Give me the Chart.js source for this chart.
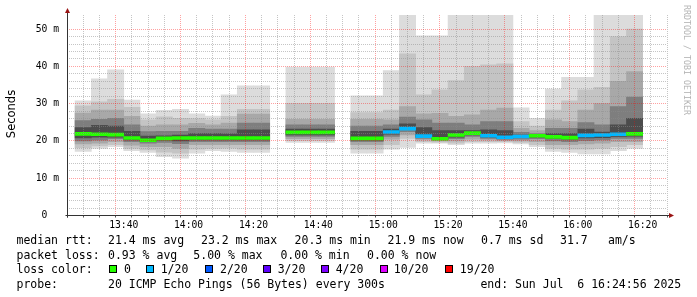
<!DOCTYPE html>
<html>
<head>
<meta charset="utf-8">
<script src="https://cdn.jsdelivr.net/npm/chart.js@4.4.1/dist/chart.umd.min.js"></script>
<style>
  body { margin: 0; background: #fff; }
  #wrap { position: relative; width: 697px; height: 297px; overflow: hidden; background: #fff; }
  #chart { position: absolute; left: 0; top: 0; }
  .txt { position: absolute; font-family: "DejaVu Sans Mono", monospace; font-size: 11.5px; line-height: 15px; white-space: pre; color: #000; }
  .box { position: absolute; width: 6px; height: 6px; border: 1px solid #000; }
  #unit { position: absolute; left: -19px; top: 107px; width: 60px; height: 14px; line-height: 14px; text-align: center;
          font-family: "DejaVu Sans", sans-serif; font-size: 11.5px; color: #000; transform: rotate(-90deg); }
  #mark { position: absolute; left: 632px; top: 55px; width: 110px; height: 10px; line-height: 10px; text-align: center;
          font-family: "DejaVu Sans Mono", monospace; font-size: 8.3px; color: #b4b4b4; transform: rotate(90deg); white-space: pre; }
</style>
</head>
<body>
<div id="wrap">
  <canvas id="chart" width="697" height="297"></canvas>
  <div id="unit">Seconds</div>
  <div id="mark">RRDTOOL / TOBI OETIKER</div>
</div>
<script>
// 5 minute steps, start of each step
var times = ['13:25','13:30','13:35','13:40','13:45','13:50','13:55','14:00','14:05','14:10','14:15','14:20',
             '14:25','14:30','14:35','14:40','14:45','14:50','14:55','15:00','15:05','15:10','15:15','15:20',
             '15:25','15:30','15:35','15:40','15:45','15:50','15:55','16:00','16:05','16:10','16:15'];
var axisStart = '13:25';
var axisEnd = '16:25';

// median rtt in ms (null = no data)
var medianRtt = [21.9, 21.8, 21.7, 20.8, 20.2, 20.7, 20.8, 20.8, 20.8, 20.8, 20.8, 20.8,
                 null, 22.3, 22.3, 22.3, null, 20.7, 20.7, 22.4, 23.3, 21.3, 20.6, 21.6,
                 22.1, 21.4, 21.0, 21.2, 21.4, 21.1, 20.9, 21.5, 21.6, 21.8, 21.9];

// lost pings out of 20
var lossCount = [0,0,0,0,0,0,0,0,0,0,0,0, null,0,0,0,null,0,0,1,1,1,0,0, 0,1,1,1,0,0,0,1,1,1,0];

// smoke: lower edges (outer -> inner) and upper edges (outer -> inner), ms
var smokeLow = [
  [17.2, 18.2, 19.2, 20.0, 20.8], [18.0, 18.7, 19.4, 20.2, 21.0], [18.5, 19.0, 19.8, 20.6, 21.0],
  [17.4, 18.0, 18.9, 19.8, 20.3], [16.9, 17.6, 18.5, 19.4, 19.9], [15.8, 17.0, 18.5, 19.6, 20.2],
  [15.4, 16.7, 18.0, 19.3, 20.0], [16.7, 17.8, 19.0, 19.8, 20.3], [17.4, 18.0, 19.0, 19.8, 20.3],
  [17.2, 18.1, 19.0, 19.8, 20.3], [16.9, 17.8, 19.0, 19.8, 20.3], [16.9, 17.8, 19.0, 19.8, 20.3],
  null,
  [19.6, 20.1, 20.6, 21.2, 21.6], [19.6, 20.1, 20.6, 21.2, 21.6], [19.6, 20.1, 20.6, 21.2, 21.6],
  null,
  [16.7, 17.8, 19.0, 19.8, 20.2], [16.7, 17.8, 19.0, 19.8, 20.2], [17.8, 19.0, 20.5, 21.2, 21.8],
  [18.3, 20.7, 21.6, 22.5, 23.0], [19.4, 19.8, 20.3, 20.7, 21.0], [19.4, 19.7, 20.0, 20.3, 20.5],
  [19.0, 19.4, 20.0, 20.6, 21.0], [19.4, 19.8, 20.5, 21.2, 21.6], [19.4, 19.8, 20.3, 20.7, 21.0],
  [19.5, 19.8, 20.1, 20.4, 20.6], [19.2, 19.6, 20.0, 20.5, 20.9], [18.5, 19.0, 19.8, 20.6, 21.0],
  [17.2, 18.0, 19.0, 20.0, 20.7], [16.9, 17.8, 19.0, 19.8, 20.5], [16.5, 17.8, 19.2, 20.1, 20.8],
  [16.5, 18.0, 19.4, 20.3, 20.9], [17.4, 18.5, 19.8, 20.7, 21.2], [18.0, 19.0, 19.8, 20.7, 21.3]
];
var smokeHigh = [
  [30.8, 29.4, 27.5, 25.5, 23.6], [36.7, 30.5, 28.3, 25.8, 24.2], [39.1, 31.2, 28.3, 26.1, 24.0],
  [31.0, 29.0, 26.6, 24.3, 22.6], [27.3, 25.7, 24.0, 22.5, 21.3], [28.2, 26.5, 24.3, 22.6, 21.4],
  [28.5, 26.1, 24.3, 22.6, 21.6], [27.3, 26.0, 24.7, 23.4, 22.0], [26.7, 25.7, 24.3, 23.2, 22.0],
  [32.4, 26.6, 24.8, 23.2, 21.9], [34.8, 28.5, 27.2, 24.8, 23.0], [34.8, 28.5, 27.2, 24.8, 23.0],
  null,
  [39.8, 30.1, 25.8, 24.3, 23.2], [39.8, 30.1, 25.8, 24.3, 23.2], [39.8, 30.1, 25.8, 24.3, 23.2],
  null,
  [32.1, 27.6, 25.8, 24.0, 22.6], [32.1, 27.6, 25.8, 24.0, 22.6], [38.9, 28.3, 25.7, 24.3, 23.2],
  [58.0, 43.4, 29.2, 26.4, 24.6], [48.2, 32.4, 27.3, 25.7, 23.6], [48.2, 33.7, 27.4, 24.8, 22.8],
  [58.0, 36.2, 26.6, 24.8, 22.8], [58.0, 40.0, 27.0, 24.3, 22.8], [58.0, 40.4, 28.3, 25.2, 23.0],
  [58.0, 40.7, 28.8, 25.2, 22.8], [28.9, 25.2, 23.4, 22.3, 21.6], [26.1, 24.0, 22.8, 22.0, 21.6],
  [33.9, 28.3, 25.7, 23.4, 22.0], [37.1, 30.8, 25.2, 23.4, 22.0], [37.1, 33.7, 28.3, 24.9, 23.2],
  [58.0, 34.4, 30.0, 24.3, 22.4], [58.0, 48.0, 36.0, 29.2, 24.3], [58.0, 50.0, 38.6, 31.8, 26.1]
];

var yMax = 53.8;

// legend texts
var rttLegend = ['median rtt:', '21.4 ms avg', '23.2 ms max', '20.3 ms min', '21.9 ms now', '0.7 ms sd', '31.7', 'am/s'];
var lossLegend = ['packet loss:', '0.93 % avg', '5.00 % max', '0.00 % min', '0.00 % now'];
var lossColorLabels = ['0', '1/20', '2/20', '3/20', '4/20', '10/20', '19/20'];
var lossColorValues = ['#26ff00', '#00b8ff', '#0059ff', '#5e00ff', '#7e00ff', '#dd00ff', '#ff0000'];
var probeLegend = ['probe:', '20 ICMP Echo Pings (56 Bytes) every 300s', 'end: Sun Jul  6 16:24:56 2025'];

// legend layout
var rttLegendX = [16.5, 108, 201, 294.6, 387.5, 481, 560, 608];
var lossLegendX = [16.5, 108, 193.3, 280.4, 367];
var lossBoxX = [109, 146.4, 205.4, 263.4, 321.4, 379.5, 444.6];
var lossLabelX = [124, 160.7, 220, 277.7, 335.7, 393.8, 459.8];
var probeLegendX = [16.5, 108, 480.4];
var rowTop = [232.8, 247.5, 262.2, 276.8];

var wrap = document.getElementById('wrap');
function addText(s, x, y) {
  var d = document.createElement('div');
  d.className = 'txt';
  d.style.left = x + 'px';
  d.style.top = y + 'px';
  d.textContent = s;
  wrap.appendChild(d);
}
rttLegend.forEach(function (s, i) { addText(s, rttLegendX[i], rowTop[0]); });
lossLegend.forEach(function (s, i) { addText(s, lossLegendX[i], rowTop[1]); });
addText('loss color:', 16.5, rowTop[2]);
lossColorLabels.forEach(function (s, i) {
  var b = document.createElement('div');
  b.className = 'box';
  b.style.left = lossBoxX[i] + 'px';
  b.style.top = (rowTop[2] + 3) + 'px';
  b.style.background = lossColorValues[i];
  wrap.appendChild(b);
  addText(s, lossLabelX[i], rowTop[2]);
});
probeLegend.forEach(function (s, i) { addText(s, probeLegendX[i], rowTop[3]); });

function toMin(t) { var p = t.split(':'); return +p[0] * 60 + +p[1]; }
var t0 = toMin(axisStart);
var xMax = toMin(axisEnd) - t0;
var step = 5;
function fmt(m) {
  var h = Math.floor(m / 60), mm = m % 60;
  return h + ':' + (mm < 10 ? '0' : '') + mm;
}

var shades = ['#dcdcdc', '#c4c4c4', '#a8a8a8', '#7e7e7e', '#4c4c4c'];

var medData = [], medColors = [];
times.forEach(function (t, i) {
  if (medianRtt[i] == null) return;
  medData.push({ x: toMin(t) - t0 + step / 2, y: [medianRtt[i] - 0.4, medianRtt[i] + 0.4] });
  medColors.push(lossColorValues[lossCount[i]]);
});

var datasets = [{ label: 'median', data: medData, backgroundColor: medColors }];
for (var k = 4; k >= 0; k--) {
  var band = [];
  times.forEach(function (t, i) {
    if (!smokeLow[i]) return;
    band.push({ x: toMin(t) - t0 + step / 2, y: [smokeLow[i][k], smokeHigh[i][k]] });
  });
  datasets.push({ label: 'smoke' + k, data: band, backgroundColor: shades[k] });
}

var minorGrid = 'rgba(140,140,140,0.5)';
var majorGrid = 'rgba(255,0,0,0.37)';

var axisPlugin = {
  id: 'rrdAxes',
  afterDraw: function (chart) {
    var ctx = chart.ctx, a = chart.chartArea;
    var x0 = Math.round(a.left) + 0.5, y0 = Math.round(a.bottom - 0.5) + 0.5;
    ctx.save();
    ctx.strokeStyle = '#333';
    ctx.lineWidth = 1;
    ctx.beginPath();
    ctx.moveTo(x0, y0 + 2); ctx.lineTo(x0, a.top - 4);
    ctx.moveTo(x0 - 2, y0); ctx.lineTo(a.right + 4, y0);
    ctx.stroke();
    ctx.fillStyle = '#9a1414';
    ctx.beginPath();
    ctx.moveTo(x0, a.top - 7); ctx.lineTo(x0 - 2.5, a.top - 2); ctx.lineTo(x0 + 2.5, a.top - 2); ctx.closePath();
    ctx.fill();
    ctx.beginPath();
    ctx.moveTo(a.right + 7, y0); ctx.lineTo(a.right + 2, y0 - 2.5); ctx.lineTo(a.right + 2, y0 + 2.5); ctx.closePath();
    ctx.fill();
    ctx.restore();
  }
};

new Chart(document.getElementById('chart'), {
  type: 'bar',
  data: { datasets: datasets },
  plugins: [axisPlugin],
  options: {
    responsive: false,
    animation: false,
    devicePixelRatio: 1,
    layout: { padding: { left: 0, top: 15, right: 30, bottom: 61.5 } },
    plugins: { legend: { display: false }, tooltip: { enabled: false } },
    datasets: { bar: { grouped: false, barPercentage: 1, categoryPercentage: 1, borderWidth: 0 } },
    scales: {
      x: {
        type: 'linear', min: 0, max: xMax,
        afterFit: function (s) { s.height = 20; },
        ticks: {
          stepSize: step, autoSkip: false, maxRotation: 0, padding: 2, color: '#000',
          font: { family: 'DejaVu Sans Mono', size: 9.7 },
          callback: function (v) { return (v + t0) % 20 === 0 ? fmt(v + t0) : ''; }
        },
        grid: {
          z: 1, lineWidth: 1, drawTicks: true, tickLength: 2, tickColor: '#555',
          color: function (c) {
            if (!c.tick) return minorGrid;
            return ((c.tick.value + t0) % 20 === 0) ? majorGrid : minorGrid;
          }
        },
        border: { display: false, dash: [1, 1] }
      },
      y: {
        min: 0, max: yMax,
        afterFit: function (s) { s.width = 67; },
        ticks: {
          stepSize: 2, autoSkip: false, padding: 8, color: '#000',
          font: { family: 'DejaVu Sans Mono', size: 9.7 },
          callback: function (v) { return v % 10 === 0 ? (v === 0 ? '0  ' : v + ' m') : ''; }
        },
        grid: {
          z: 1, lineWidth: 1, drawTicks: false,
          color: function (c) {
            if (!c.tick) return minorGrid;
            var v = c.tick.value;
            if (v % 10 === 0) return majorGrid;
            if (v % 2 === 0) return minorGrid;
            return 'rgba(0,0,0,0)';
          }
        },
        border: { display: false, dash: [1, 1] }
      }
    }
  }
});
</script>
</body>
</html>
